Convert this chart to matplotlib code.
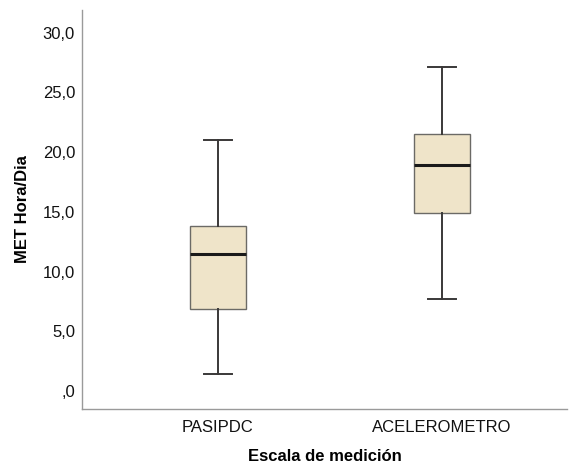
import matplotlib
matplotlib.use('Agg')
import matplotlib.pyplot as plt

groups = ['PASIPDC', 'ACELEROMETRO']
whisker_low = [1.4, 7.7]
q1 = [6.9, 14.9]
median = [11.5, 18.9]
q3 = [13.8, 21.5]
whisker_high = [21.0, 27.1]

yticks = [0, 5, 10, 15, 20, 25, 30]
ytick_labels = [',0', '5,0', '10,0', '15,0', '20,0', '25,0', '30,0']

plt.rcParams['font.family'] = ['Liberation Sans', 'DejaVu Sans']


def main():
    fig = plt.figure(figsize=(5.69, 4.65), dpi=100)
    ax = fig.add_axes([82 / 569, 1 - 409 / 465, 485 / 569, 399 / 465])

    stats = []
    for i, g in enumerate(groups):
        stats.append({'label': g, 'whislo': whisker_low[i], 'q1': q1[i],
                      'med': median[i], 'q3': q3[i], 'whishi': whisker_high[i],
                      'fliers': []})

    ax.bxp(stats, positions=[1, 2], widths=0.254, patch_artist=True,
           showfliers=False,
           boxprops=dict(facecolor='#efe4c9', edgecolor='#6b6a66', linewidth=1.0),
           medianprops=dict(color='#1a1a1a', linewidth=2.2),
           whiskerprops=dict(color='#3a3838', linewidth=1.4),
           capprops=dict(color='#3a3838', linewidth=1.4),
           capwidths=0.125)

    ax.set_xlim(0.393, 2.558)
    ax.set_ylim(-1.5, 31.9)
    ax.set_yticks(yticks)
    ax.set_yticklabels(ytick_labels)
    ax.tick_params(axis='both', length=0, labelsize=12, colors='#111111')
    ax.tick_params(axis='y', pad=5)
    ax.tick_params(axis='x', pad=8)

    for s in ['top', 'right']:
        ax.spines[s].set_visible(False)
    for s in ['left', 'bottom']:
        ax.spines[s].set_color('#9a9a9a')
        ax.spines[s].set_linewidth(1.0)

    ax.set_ylabel('MET Hora/Dia', fontsize=12, fontweight='bold', labelpad=9)
    ax.set_xlabel('Escala de medición', fontsize=12, fontweight='bold', labelpad=10)

    fig.savefig('out.png', dpi=100)


if __name__ == '__main__':
    main()
